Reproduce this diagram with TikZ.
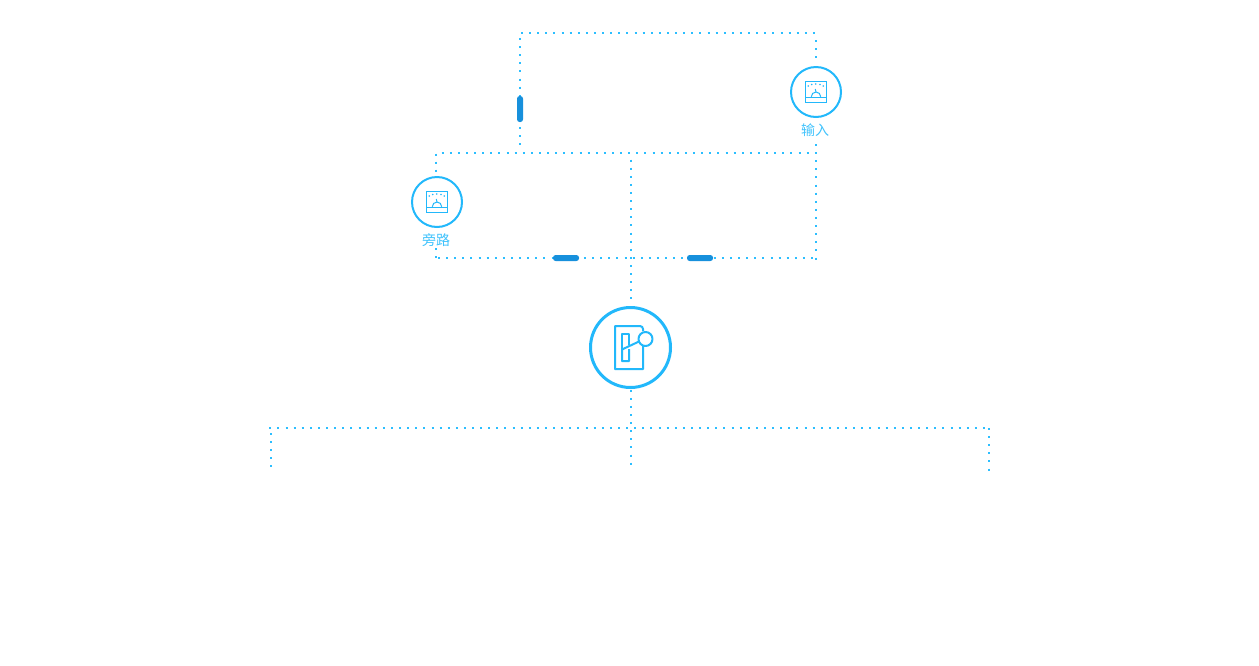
\documentclass[tikz,border=0pt]{standalone}
\usepackage{fontspec}
\newfontfamily\cjk{Noto Sans CJK SC}
\definecolor{lineblue}{HTML}{22B8FB}
\definecolor{dotblue}{HTML}{2CBEFF}
\definecolor{labblue}{HTML}{3FC2FC}
\definecolor{barblue}{HTML}{1790DC}
\tikzset{
  x=1pt,y=-1pt,
  dotline/.style={draw=dotblue,line width=2pt,dash pattern=on 2pt off 6.11pt},
  vbar/.style={fill=barblue,rounded corners=2.6pt,minimum width=6pt,minimum height=26pt,inner sep=0pt},
  hbar/.style={fill=barblue,rounded corners=2.6pt,minimum width=26pt,minimum height=6pt,inner sep=0pt},
  meterring/.style={circle,draw=lineblue,fill=white,line width=2pt,minimum size=50pt,inner sep=0pt},
  bigring/.style={circle,draw=lineblue,fill=white,line width=3pt,minimum size=80pt,inner sep=0pt},
  lab/.style={text=labblue,inner sep=0pt,font=\cjk\fontsize{14}{16}\selectfont},
  iconline/.style={draw=lineblue,line width=1pt},
  bigicon/.style={draw=lineblue,line width=2pt,line join=round},
  meter/.pic={
    \draw[iconline] (-10.5,-10.5) rectangle (10.5,10.5);
    \draw[iconline] (-10.5,5) -- (10.5,5);
    \draw[iconline] (-4.7,4.7) arc[start angle=180,end angle=360,radius=4.7];
    \draw[iconline] (-0.7,-3) -- (0,0);
    \foreach \px/\py in {-7.7/-6,-4.3/-7.5,-0.3/-8,4/-7.5,7.3/-6}
      \fill[lineblue] (\px,\py) circle[radius=0.85];
  }
}
\begin{document}
\begin{tikzpicture}
\useasboundingbox (0,0) rectangle (1259,665);
% connector end points
\coordinate (topL) at (521,33);
\coordinate (topR) at (815.5,33);
\coordinate (inUp0) at (815.5,40);
\coordinate (inUp1) at (815.5,58.5);
\coordinate (inDn) at (815.5,144);
\coordinate (backTop) at (520,38);
\coordinate (backBot) at (520,147);
\coordinate (midL) at (441.7,153);
\coordinate (midR) at (816,153);
\coordinate (byUp0) at (436,153.5);
\coordinate (byUp1) at (436,172);
\coordinate (byDn0) at (436,248);
\coordinate (byDn1) at (436,259);
\coordinate (lowL) at (438,258);
\coordinate (lowR) at (815,258);
\coordinate (lowEnd) at (815.5,259.5);
\coordinate (cenTop) at (631,159.6);
\coordinate (cenMid) at (631,300);
\coordinate (cenLow) at (631,389.7);
\coordinate (endC) at (631,465);
\coordinate (busL) at (269.3,428);
\coordinate (busR) at (985,428);
\coordinate (leftTop) at (270.5,433);
\coordinate (leftEnd) at (270.5,468.5);
\coordinate (rightTop) at (989,428);
\coordinate (rightEnd) at (989,471);
% connectors
\draw[dotline] (topL) -- (topR);
\draw[dotline] (inUp0) -- (inUp1);
\draw[dotline] (backTop) -- (backBot);
\draw[dotline] (midL) -- (midR);
\draw[dotline] (byUp0) -- (byUp1);
\draw[dotline] (byDn0) -- (byDn1);
\draw[dotline] (lowL) -- (lowR);
\draw[dotline] (inDn) -- (lowEnd);
\draw[dotline] (cenTop) -- (cenMid);
\draw[dotline] (cenLow) -- (endC);
\draw[dotline] (busL) -- (busR);
\draw[dotline] (leftTop) -- (leftEnd);
\draw[dotline] (rightTop) -- (rightEnd);
% bars
\node[vbar] (barV) at (520,109) {};
\node[hbar] (barA) at (566,258) {};
\node[hbar] (barB) at (700,258) {};
% meters
\node[meterring] (input) at (816,92) {};
\pic at (816,92) {meter};
\node[lab] (inputL) at (815,130) {输入};
\node[meterring] (bypass) at (437,202) {};
\pic at (437,202) {meter};
\node[lab] (bypassL) at (436,240) {旁路};
% switch
\node[bigring] (sw) at (630.5,347.5) {};
\draw[bigicon] (643,331) -- (643,329) arc[start angle=0,end angle=-90,radius=3] -- (615,326) -- (615,369) -- (643,369) -- (643,346);
\draw[bigicon] (622,349.5) -- (622,334) -- (629,334) -- (629,345);
\draw[bigicon] (629,349) -- (629,361) -- (622,361) -- (622,349.5) -- (639,341.5);
\draw[bigicon] (645.5,339) circle[radius=7];
\end{tikzpicture}
\end{document}
